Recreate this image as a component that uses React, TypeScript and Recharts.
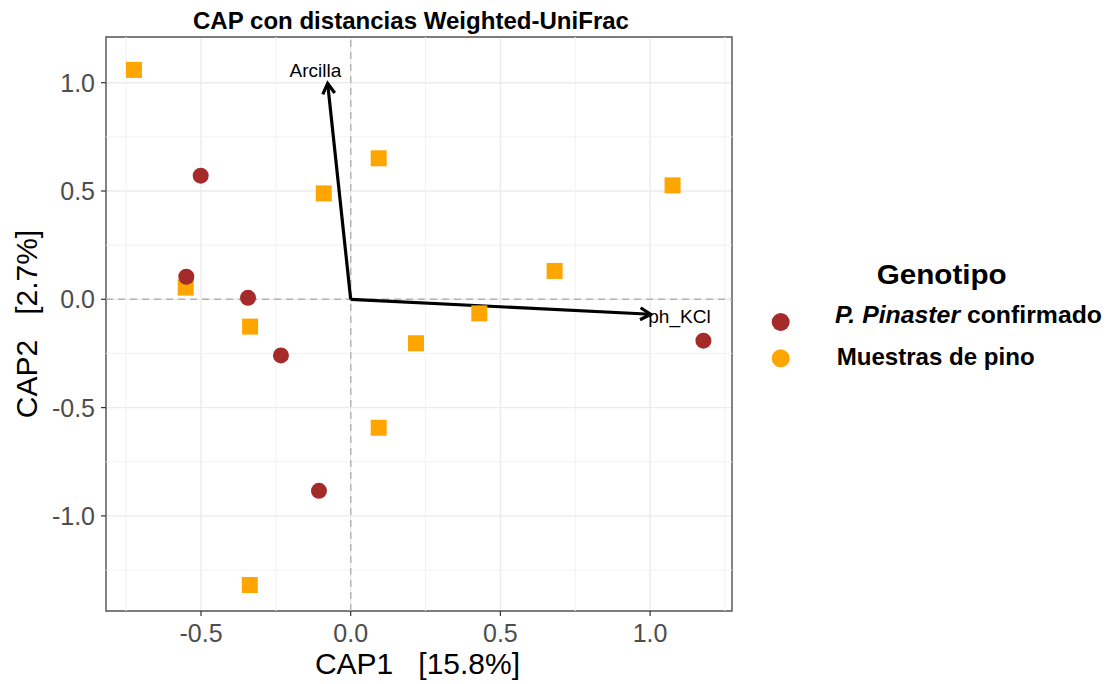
import React from 'react';
import {
  ScatterChart,
  Scatter,
  XAxis,
  YAxis,
  CartesianGrid,
  ReferenceLine,
  ReferenceArea,
} from 'recharts';

// ---- data ----
const xDomain: [number, number] = [-0.8173, 1.2735];
const yDomain: [number, number] = [-1.439, 1.211];
const xMajor = [-0.5, 0, 0.5, 1.0];
const yMajor = [-1.0, -0.5, 0, 0.5, 1.0];
const xMinor = [-0.75, -0.25, 0.25, 0.75, 1.25];
const yMinor = [-1.25, -0.75, -0.25, 0.25, 0.75];

const pinoX = [-0.724, 0.0935, -0.09, -0.551, -0.336, 1.075, 0.681, 0.4295, 0.218, 0.0935, -0.337];
const pinoY = [1.059, 0.651, 0.489, 0.054, -0.126, 0.526, 0.131, -0.065, -0.203, -0.593, -1.319];

const pinasterX = [-0.501, -0.549, -0.343, -0.233, -0.106, 1.178];
const pinasterY = [0.571, 0.104, 0.007, -0.259, -0.884, -0.191];

const arrowNames = ['Arcilla', 'ph_KCl'];
const arrowX = [-0.077, 1.002];
const arrowY = [0.997, -0.069];
const labelX = [-0.118, 1.098];
const labelY = [1.059, -0.08];

const legendTitle = 'Genotipo';
const legendItalic = 'P. Pinaster';
const legendItems = ['confirmado', 'Muestras de pino'];

const ORANGE = '#FFA500';
const BROWN = '#A52A2A';
const FONT = '"Liberation Sans", Arial, Helvetica, sans-serif';

const pinoData = pinoX.map((x, i) => ({ x, y: pinoY[i] }));
const pinasterData = pinasterX.map((x, i) => ({ x, y: pinasterY[i] }));
const labelData = arrowNames.map((name, i) => ({ x: labelX[i], y: labelY[i], name }));

const SquareShape = (props: any) => {
  const { cx, cy } = props;
  if (cx == null || cy == null) return null;
  return <rect x={cx - 8} y={cy - 8} width={16} height={16} fill={ORANGE} />;
};

const CircleShape = (props: any) => {
  const { cx, cy } = props;
  if (cx == null || cy == null) return null;
  return <circle cx={cx} cy={cy} r={8} fill={BROWN} />;
};

const LabelShape = (props: any) => {
  const { cx, cy, payload } = props;
  if (cx == null || cy == null) return null;
  return (
    <text
      x={cx}
      y={cy + 19 * 0.35}
      textAnchor="middle"
      fontSize={19}
      fontFamily={FONT}
      fill="#000"
    >
      {payload.name}
    </text>
  );
};

const ArrowShape = (props: any) => {
  const { x1, y1, x2, y2 } = props;
  if ([x1, y1, x2, y2].some((v) => v == null || isNaN(v))) return null;
  const ang = Math.atan2(y2 - y1, x2 - x1);
  const len = 12;
  const spread = Math.PI / 6;
  const ax = x2 - len * Math.cos(ang - spread);
  const ay = y2 - len * Math.sin(ang - spread);
  const bx = x2 - len * Math.cos(ang + spread);
  const by = y2 - len * Math.sin(ang + spread);
  return (
    <g>
      <line x1={x1} y1={y1} x2={x2} y2={y2} stroke="#000" strokeWidth={3.2} />
      <polyline
        points={`${ax},${ay} ${x2},${y2} ${bx},${by}`}
        fill="none"
        stroke="#000"
        strokeWidth={3.2}
        strokeLinejoin="miter"
      />
    </g>
  );
};

const XTick = (props: any) => {
  const { x, y, payload } = props;
  return (
    <text x={x} y={y + 17.5} textAnchor="middle" fontSize={25} fontFamily={FONT} fill="#4D4D4D">
      {Number(payload.value).toFixed(1)}
    </text>
  );
};

const YTick = (props: any) => {
  const { x, y, payload } = props;
  return (
    <text x={x} y={y + 9} textAnchor="end" fontSize={25} fontFamily={FONT} fill="#4D4D4D">
      {Number(payload.value).toFixed(1)}
    </text>
  );
};

export default function App() {
  return (
    <div
      style={{
        position: 'absolute',
        left: 0,
        top: 0,
        width: 1110,
        height: 684,
        background: '#fff',
        fontFamily: FONT,
      }}
    >
      <ScatterChart
        width={1110}
        height={684}
        margin={{ top: 37, right: 378, bottom: 0, left: 0 }}
      >
        <CartesianGrid stroke="#EBEBEB" strokeWidth={1.4} />
        {xMinor.map((v) => (
          <ReferenceLine key={'xm' + v} x={v} stroke="#F2F2F2" strokeWidth={1} />
        ))}
        {yMinor.map((v) => (
          <ReferenceLine key={'ym' + v} y={v} stroke="#F2F2F2" strokeWidth={1} />
        ))}
        <XAxis
          type="number"
          dataKey="x"
          domain={xDomain}
          allowDataOverflow
          ticks={xMajor}
          height={73}
          axisLine={false}
          tickLine={{ stroke: '#333', strokeWidth: 1.2 }}
          tickSize={5}
          tickMargin={8}
          tick={<XTick />}
          interval={0}
        />
        <YAxis
          type="number"
          dataKey="y"
          domain={yDomain}
          allowDataOverflow
          ticks={yMajor}
          width={106}
          axisLine={false}
          tickLine={{ stroke: '#333', strokeWidth: 1.2 }}
          tickSize={5}
          tickMargin={6}
          tick={<YTick />}
          interval={0}
        />
        <ReferenceLine x={0} stroke="#B3B3B3" strokeWidth={1.4} strokeDasharray="7 5" />
        <ReferenceLine y={0} stroke="#B3B3B3" strokeWidth={1.4} strokeDasharray="7 5" />
        <Scatter data={pinoData} shape={SquareShape} isAnimationActive={false} />
        <Scatter data={pinasterData} shape={CircleShape} isAnimationActive={false} />
        {arrowNames.map((n, i) => (
          <ReferenceLine
            key={n}
            segment={[
              { x: 0, y: 0 },
              { x: arrowX[i], y: arrowY[i] },
            ]}
            shape={ArrowShape}
          />
        ))}
        <Scatter data={labelData} shape={LabelShape} isAnimationActive={false} />
        <ReferenceArea
          x1={xDomain[0]}
          x2={xDomain[1]}
          y1={yDomain[0]}
          y2={yDomain[1]}
          fill="none"
          fillOpacity={0}
          stroke="#555"
          strokeWidth={1.4}
        />
      </ScatterChart>
      <svg
        width={1110}
        height={684}
        style={{ position: 'absolute', left: 0, top: 0, pointerEvents: 'none' }}
      >
        <text x={193} y={28.5} fontSize={24} fontWeight="bold" fontFamily={FONT} fill="#000" textLength={436} lengthAdjust="spacingAndGlyphs">
          CAP con distancias Weighted-UniFrac
        </text>
        <text x={417.5} y={674} fontSize={30} fontFamily={FONT} fill="#000" textAnchor="middle" style={{ whiteSpace: 'pre' }}>
          {'CAP1   [15.8%]'}
        </text>
        <g transform="translate(37 324) rotate(-90)">
          <text x={0} y={0} fontSize={30} fontFamily={FONT} fill="#000" textAnchor="middle" style={{ whiteSpace: 'pre' }}>
            {'CAP2   [2.7%]'}
          </text>
        </g>
        <text x={876.7} y={283.5} fontSize={28} fontWeight="bold" fontFamily={FONT} fill="#000" textLength={130} lengthAdjust="spacingAndGlyphs">
          {legendTitle}
        </text>
        <circle cx={780.7} cy={322} r={9} fill={BROWN} />
        <text x={835} y={323} fontSize={24} fontWeight="bold" fontFamily={FONT} fill="#000" textLength={267} lengthAdjust="spacingAndGlyphs">
          <tspan fontStyle="italic">{legendItalic}</tspan>
          <tspan>{' ' + legendItems[0]}</tspan>
        </text>
        <circle cx={780.7} cy={358.3} r={9} fill={ORANGE} />
        <text x={836.7} y={365} fontSize={24} fontWeight="bold" fontFamily={FONT} fill="#000" textLength={198} lengthAdjust="spacingAndGlyphs">
          {legendItems[1]}
        </text>
      </svg>
    </div>
  );
}
